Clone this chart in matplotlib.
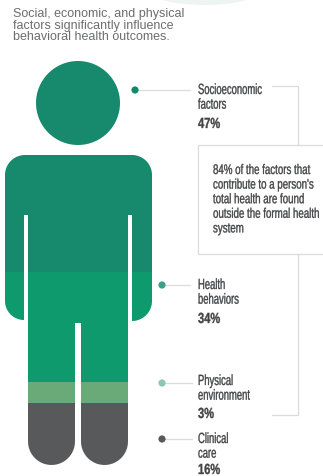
import numpy as np
import matplotlib
matplotlib.use("Agg")
import matplotlib.pyplot as plt
from matplotlib.patches import Circle, PathPatch, Rectangle, Ellipse
from matplotlib.path import Path
from matplotlib.patheffects import AbstractPathEffect
from matplotlib.transforms import Affine2D

# Chart content
title_lines = ["Social, economic, and physical",
               "factors significantly influence",
               "behavioral health outcomes."]
factor_names = [["Socioeconomic", "factors"], ["Health", "behaviors"],
                ["Physical", "environment"], ["Clinical", "care"]]
factor_shares = [47, 34, 3, 16]
factor_colors = ["#17896c", "#0f9a6e", "#69aa78", "#58595b"]
dot_colors = ["#118a6b", "#3f9f86", "#8fc6ae", "#58595b"]
callout_lines = ["84% of the factors that",
                 "contribute to a person's",
                 "total health are found",
                 "outside the formal health",
                 "system"]

GREY = "#424345"
LINE = "#d9dcda"
HEIGHT = 476

fig = plt.figure(figsize=(3.23, HEIGHT / 100), dpi=100)
ax = fig.add_axes([0, 0, 1, 1])
ax.set_xlim(0, 323)
ax.set_ylim(HEIGHT, 0)
ax.axis("off")


# No condensed family is installed: set a small font and stretch it upward from the baseline
class Tall(AbstractPathEffect):
    def __init__(self, y0, sy):
        super().__init__()
        self.y0, self.sy = y0, sy

    def draw_path(self, renderer, gc, tpath, affine, rgbFace=None):
        stretch = Affine2D().translate(0, -self.y0).scale(1, self.sy).translate(0, self.y0)
        gc.set_linewidth(0.25)
        gc.set_foreground(rgbFace)
        renderer.draw_path(gc, tpath, affine + stretch, rgbFace)


def tall_text(x, y, s, size, sy, **kw):
    t = ax.text(x, y, s, family="Liberation Sans", fontsize=size, color=GREY,
                ha="left", va="baseline", **kw)
    t.set_path_effects([Tall(HEIGHT - y, sy)])


def arc(cx, cy, r, a0, a1, n=24):
    t = np.radians(np.linspace(a0, a1, n))
    return np.column_stack([cx + r * np.cos(t), cy + r * np.sin(t)])


# Body outline, traced clockwise from the left shoulder (y points down)
outline = np.vstack([
    arc(25, 175, 20, 180, 270),
    arc(132, 175, 20, 270, 360),
    arc(132, 301, 20, 0, 90),
    [[132, 215], [128, 215]],
    arc(104.5, 441.5, 23.5, 0, 180),
    [[81, 323], [75, 323]],
    arc(51.5, 441.5, 23.5, 0, 180),
    [[28, 215], [24, 215]],
    arc(24, 301, 19, 90, 180),
])
body = PathPatch(Path(np.vstack([outline, outline[0]]), closed=True), fc="none", ec="none")
ax.add_patch(body)

# Head and the coloured body bands
ax.add_patch(Circle((78, 103), 42, fc=factor_colors[0], ec="none"))
band_edges = [150, 272, 382, 403, 470]
for i, c in enumerate(factor_colors):
    band = Rectangle((0, band_edges[i]), 160, band_edges[i + 1] - band_edges[i], fc=c, ec="none")
    ax.add_patch(band)
    band.set_clip_path(body)

# Dots, leader lines and labels
dot_x = [135, 162, 162, 162]
dot_y = [90, 285, 383, 439]
line_end = [190, 190, 192, 192]
name_base = [94, 289, 385, 443]
share_base = [128, 323, 418, 474]
for i in range(4):
    ax.plot([dot_x[i], line_end[i]], [dot_y[i]] * 2, color=LINE, lw=0.9, zorder=1)
    ax.add_patch(Circle((dot_x[i], dot_y[i]), 3.6, fc=dot_colors[i], ec="none", zorder=2))
    for j, part in enumerate(factor_names[i]):
        tall_text(198, name_base[i] + j * 14.7, part, 6.8, 1.56)
    tall_text(198, share_base[i], "%d%%" % factor_shares[i], 8.0, 1.32, fontweight="bold")

# Bracket and callout box
ax.plot([272, 298, 298], [86, 86, 145], color=LINE, lw=0.9)
ax.plot([298, 298, 272], [254, 415, 415], color=LINE, lw=0.9)
ax.add_patch(Rectangle((197.5, 145), 130, 109, fc="white", ec="#dddddd", lw=0.9))
for i, line in enumerate(callout_lines):
    tall_text(213, 174 + i * 14.6, line, 7.0, 1.43)

# Title and the faint arc along the top edge
ax.add_patch(Ellipse((205, -9), 110, 28, fc="#eef4f2", ec="none"))
for i, line in enumerate(title_lines):
    ax.text(13, 14 + i * 11.6, line, family="Liberation Sans", fontsize=9, color="#6c6d6f",
            va="center", ha="left")

fig.savefig("out.png", dpi=100)
